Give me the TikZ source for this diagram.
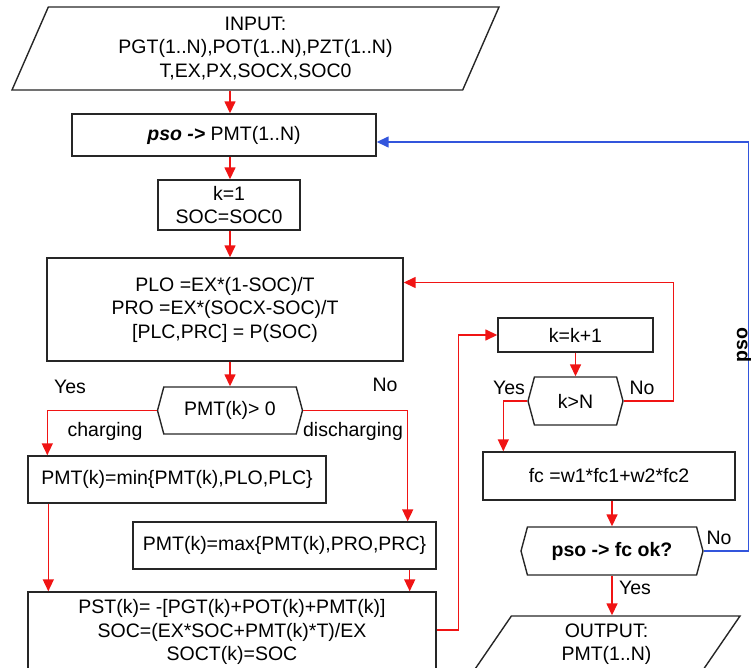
\documentclass[tikz,border=0pt]{standalone}
\usepackage{fontspec}
\setmainfont{Liberation Sans}
\usetikzlibrary{arrows.meta,shapes.geometric,shapes.symbols}

\definecolor{flowred}{RGB}{240,20,20}
\definecolor{flowblue}{RGB}{50,85,220}

\begin{document}
\begin{tikzpicture}[x=1pt,y=-1pt,
  every node/.style={font=\fontsize{19.5}{23.5}\selectfont, inner sep=0pt, align=center},
  procbox/.style={draw=black!85, line width=1.4pt, rectangle, minimum width=#1},
  hexbox/.style={draw=black!85, line width=1.4pt, signal, signal to=west and east, signal pointer angle=150, minimum width=#1, minimum height=47},
  iobox/.style={draw=black!85, line width=1.4pt, trapezium, trapezium stretches body, minimum height=#1},
  redline/.style={draw=flowred, line width=1.5pt},
  redarrow/.style={redline, -{Triangle[length=12pt,width=11pt]}},
  bluearrow/.style={draw=flowblue, line width=1.5pt, -{Triangle[length=12pt,width=11pt]}}]
\useasboundingbox (0,0) rectangle (751,668);
\clip (0,0) rectangle (751,668);

%Shape: Input
\node (in) [iobox=83, trapezium left angle=60, trapezium right angle=120, minimum width=487] at (255.5,48.5) {INPUT:\\PGT(1..N),POT(1..N),PZT(1..N)\\T,EX,PX,SOCX,SOC0};
%Shape: Boxes
\node (pso) [procbox=304, minimum height=42] at (224,135) {\textbf{\textit{pso ->}} PMT(1..N)};
\node (kone) [procbox=142, minimum height=50] at (229,205) {k=1\\SOC=SOC0};
\node (plo) [procbox=356, minimum height=103] at (225,309.5) {PLO =EX*(1-SOC)/T\\PRO =EX*(SOCX-SOC)/T\\{[}PLC,PRC{]} = P(SOC)};
\node (sgn) [hexbox=145] at (230,410.5) {PMT(k)> 0};
\node (pmin) [procbox=298, minimum height=47] at (177,479.5) {PMT(k)=min\{PMT(k),PLO,PLC\}};
\node (pmax) [procbox=303, minimum height=47] at (284.5,545.5) {PMT(k)=max\{PMT(k),PRO,PRC\}};
\node (pst) [procbox=408, minimum height=80] at (232,632) {PST(k)= -[PGT(k)+POT(k)+PMT(k)]\\SOC=(EX*SOC+PMT(k)*T)/EX\\SOCT(k)=SOC};
\node (kinc) [procbox=155, minimum height=34] at (575.5,335) {k=k+1};
\node (kgt) [hexbox=95, minimum height=48] at (575.5,401) {k>N};
\node (fc) [procbox=252, minimum height=48] at (609,476) {fc =w1*fc1+w2*fc2};
\node (ok) [hexbox=182, minimum height=48] at (612,551) {\textbf{pso -> fc ok?}};
%Shape: Output
\node (out) [iobox=56, trapezium left angle=47, trapezium right angle=133, minimum width=267] at (606.5,644) {OUTPUT:\\PMT(1..N)};

%Lines
\draw[redarrow] (in.south -| sgn.north) -- (pso.north -| sgn.north);
\draw[redarrow] (pso.south -| sgn.north) -- (kone.north -| sgn.north);
\draw[redarrow] (kone.south -| sgn.north) -- (plo.north -| sgn.north);
\draw[redarrow] (plo.south -| sgn.north) -- (sgn.north);
\draw[redarrow] (sgn.west) -| ([xshift=20]pmin.north west);
\draw[redarrow] (sgn.east) -| ([xshift=-29]pmax.north east);
\draw[redarrow] ([xshift=21]pmin.south west) -- ([xshift=21]pmin.south west |- pst.north);
\draw[redarrow] ([xshift=-27]pmax.south east) -- ([xshift=-27]pmax.south east |- pst.north);
\draw[redarrow] ([yshift=2]pst.east) -- ++(22,0) |- (kinc.west);
\draw[redarrow] (kinc.south) -- (kgt.north);
\draw[redarrow] (kgt.west) -| ([xshift=21]fc.north west);
\draw[redarrow] (kgt.east) -- ++(50,0) |- ([yshift=27]plo.east);
\draw[redarrow] (ok.north |- fc.south) -- (ok.north);
\draw[redarrow] (ok.south) -- (ok.south |- out.north);
\draw[bluearrow] (ok.east) -- ++(45,0) |- ([yshift=-7]pso.east);

% Text Node
\node (yes1) at (70,387) {Yes};
\node (no1) at (385,385) {No};
\node (chg) at (105,431) {charging};
\node (dchg) at (353,431) {discharging};
\node (yes2) at (509,388) {Yes};
\node (no2) at (642,388) {No};
\node (no3) at (719,538) {No};
\node (yes3) at (635,588) {Yes};
\node (psol) [rotate=90, font=\fontsize{19.5}{23.5}\selectfont\bfseries] at (744,345) {pso};

\end{tikzpicture}
\end{document}
